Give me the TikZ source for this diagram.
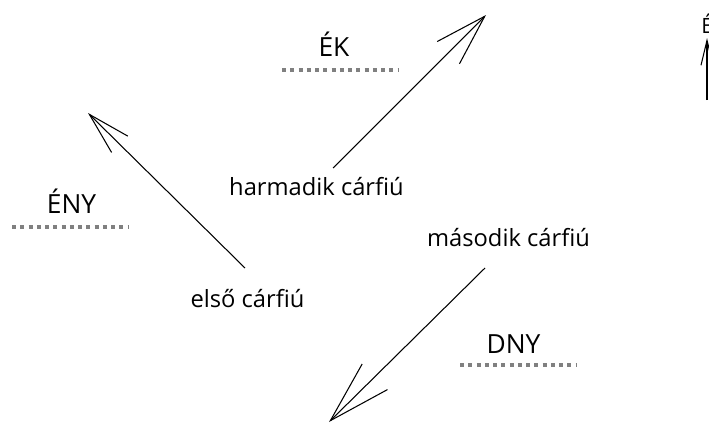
\documentclass[tikz,border=0pt]{standalone}
\usepackage{fontspec}
\setmainfont{Open Sans}
\usepackage{tikz}
\usetikzlibrary{calc}
\usetikzlibrary{arrows.meta}

\begin{document}
\begin{tikzpicture}[x=0.02cm,y=-0.02cm]
    \tikzstyle{every node}=[inner sep=0pt,anchor=base,font=\fontsize{13.5}{16}\selectfont]
    \tikzstyle{egtaj}=[font=\fontsize{15}{18}\selectfont]
    \tikzstyle{pontsor}=[draw=black!50,line width=1.8pt,dash pattern=on 2.3pt off 2.4pt]
    \tikzstyle{nyil}=[draw=black,line width=0.6pt]

   \path[use as bounding box] (0,0) rectangle (709,423);

   % egtajak
   \node[egtaj] (ek) at (334,56) {ÉK};
   \node[egtaj] (eny) at (71.5,213) {ÉNY};
   \node[egtaj] (dny) at (513.5,353) {DNY};
   \node[font=\fontsize{12}{14}\selectfont,anchor=base west] (e) at (701,33) {É};

   \draw[pontsor] (282,70) -- (398,70);
   \draw[pontsor] (12,227) -- (128,227);
   \draw[pontsor] (460,365) -- (576,365);

   % cimkek
   \node (elso) at (247.5,307) {első cárfiú};
   \node (masodik) at (508.5,246) {második cárfiú};
   \node (harmadik) at (316.5,195) {harmadik cárfiú};

   \coordinate (elso-v) at (245,268);
   \coordinate (elso-h) at (88,113);
   \coordinate (harmadik-v) at (333,168);
   \coordinate (harmadik-h) at (486,15);
   \coordinate (masodik-v) at (485,268);
   \coordinate (masodik-h) at (329,422);
   \coordinate (e-v) at (707,100);
   \coordinate (e-h) at (707,38);

   \draw[nyil,-{Straight Barb[length=0.85cm,width=0.46cm]}] (elso-v) -- (elso-h);
   \draw[nyil,-{Straight Barb[length=1.03cm,width=0.63cm]}] (harmadik-v) -- (harmadik-h);
   \draw[nyil,-{Straight Barb[length=1.25cm,width=0.72cm]}] (masodik-v) -- (masodik-h);
   \draw[nyil,-{Straight Barb[length=0.5cm,width=0.24cm]}] (e-v) -- (e-h);

\end{tikzpicture}
\end{document}
